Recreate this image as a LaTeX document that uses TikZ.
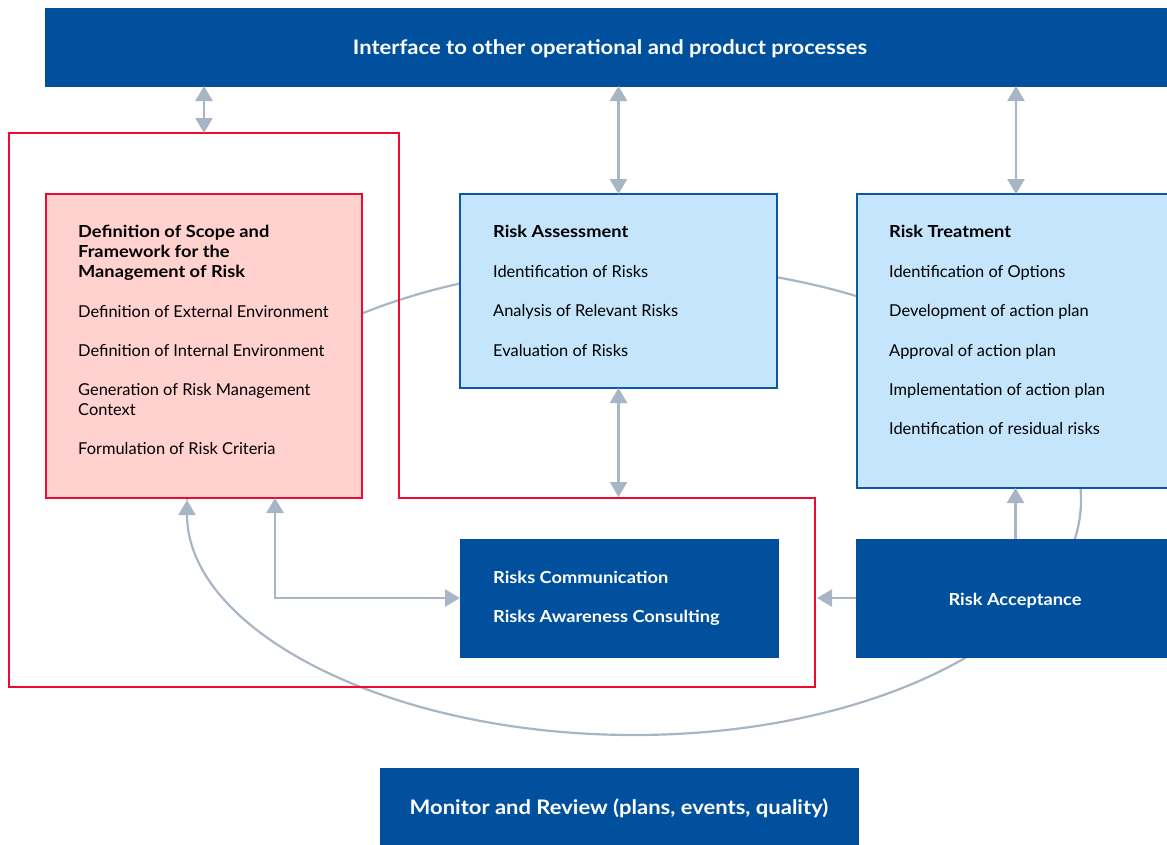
\documentclass[tikz,border=0pt]{standalone}
\usepackage{fontspec}
\setmainfont{Lato}[BoldFeatures={FakeStretch=1.1}]
\usetikzlibrary{arrows.meta}
\definecolor{navy}{HTML}{00509E}
\definecolor{skyfill}{HTML}{C5E5FC}
\definecolor{skyline}{HTML}{0D58A6}
\definecolor{rose}{HTML}{FFD2CF}
\definecolor{alert}{HTML}{EE0A33}
\definecolor{link}{HTML}{A8B5C4}
\begin{document}
\begin{tikzpicture}[x=1pt,y=-1pt,
  solid box/.style={fill=navy, draw=navy, line width=0.5pt, inner sep=0pt, outer sep=0pt},
  info box/.style={fill=skyfill, draw=skyline, line width=2pt, inner sep=0pt, outer sep=0pt},
  scope box/.style={fill=rose, draw=alert, line width=2pt, inner sep=0pt, outer sep=0pt},
  head/.style={anchor=base west, inner sep=0pt, font=\fontsize{16.6}{20}\selectfont\bfseries},
  item/.style={anchor=base west, inner sep=0pt, font=\fontsize{16.4}{20}\selectfont},
  banner text/.style={anchor=base, inner sep=0pt, text=white, font=\fontsize{20}{24}\selectfont\bfseries},
  white head/.style={anchor=base west, inner sep=0pt, text=white, font=\fontsize{16.6}{20}\selectfont\bfseries},
  flow/.style={draw=link, line width=2.5pt},
  oneway/.style={-{Triangle[length=15pt,width=17pt]}},
  twoway/.style={{Triangle[length=15pt,width=17pt]}-{Triangle[length=15pt,width=17pt]}},
]
\useasboundingbox (0,0) rectangle (1167,844);

% feedback loop running behind all boxes
\coordinate (loopleft) at (187,500);
\coordinate (loopright) at (1081,500);
\draw[flow, line width=2.2pt] (loopleft) arc[start angle=180, end angle=360, x radius=447, y radius=235];
\draw[flow, line width=2.2pt, oneway] (loopright) arc[start angle=0, end angle=180, x radius=447, y radius=235];

% boxes
\node[solid box, minimum width=1130, minimum height=78] (iface) at (610,47) {};
\node[scope box, minimum width=316, minimum height=304] (scope) at (204,346) {};
\node[info box, minimum width=317, minimum height=194] (assess) at (618.5,291) {};
\node[info box, minimum width=318, minimum height=294] (treat) at (1016,341) {};
\node[solid box, minimum width=318, minimum height=118] (comm) at (619,598) {};
\node[solid box, minimum width=319, minimum height=118] (accept) at (1015.5,598) {};
\node[solid box, minimum width=478, minimum height=78] (monitor) at (619,807) {};

% context frame
\draw[alert, line width=2pt] (9,133) -- (399,133) -- (399,498) -- (815,498) -- (815,687) -- (9,687) -- cycle;
\coordinate (frametop) at (204,133);
\coordinate (framestep) at (619,497);
\coordinate (frameside) at (817,598);
\coordinate (elbow) at (275,598);

% connectors
\draw[flow, twoway] (iface.south -| frametop) -- (frametop);
\draw[flow, twoway] (iface.south -| assess.north) -- (assess.north);
\draw[flow, twoway] (iface.south -| treat.north) -- (treat.north);
\draw[flow, twoway] (assess.south) -- (assess.south |- framestep);
\draw[flow, oneway] (accept.north) -- (accept.north |- treat.south);
\draw[flow, oneway] (accept.west) -- (frameside);
\draw[flow, twoway] (scope.south -| elbow) -- (elbow) -- (comm.west);

% texts
\node[banner text] (iface-t) at (610,54) {Interface to other operational and product processes};

\node[head] (scope-h1) at (78,237) {Definition of Scope and};
\node[head] (scope-h2) at (78,257) {Framework for the};
\node[head] (scope-h3) at (78,277) {Management of Risk};
\node[item] (scope-1) at (78,317) {Definition of External Environment};
\node[item] (scope-2) at (78,356) {Definition of Internal Environment};
\node[item] (scope-3) at (78,395) {Generation of Risk Management};
\node[item] (scope-3b) at (78,415) {Context};
\node[item] (scope-4) at (78,454) {Formulation of Risk Criteria};

\node[head] (assess-h) at (493,237) {Risk Assessment};
\node[item] (assess-1) at (493,277) {Identification of Risks};
\node[item] (assess-2) at (493,316) {Analysis of Relevant Risks};
\node[item] (assess-3) at (493,356) {Evaluation of Risks};

\node[head] (treat-h) at (889,237) {Risk Treatment};
\node[item] (treat-1) at (889,277) {Identification of Options};
\node[item] (treat-2) at (889,316) {Development of action plan};
\node[item] (treat-3) at (889,356) {Approval of action plan};
\node[item] (treat-4) at (889,395) {Implementation of action plan};
\node[item] (treat-5) at (889,434) {Identification of residual risks};

\node[white head] (comm-1) at (493,583) {Risks Communication};
\node[white head] (comm-2) at (493,622) {Risks Awareness Consulting};
\node[white head, anchor=base] (accept-t) at (1015,605) {Risk Acceptance};
\node[banner text] (monitor-t) at (619,814) {Monitor and Review (plans, events, quality)};
\end{tikzpicture}
\end{document}
